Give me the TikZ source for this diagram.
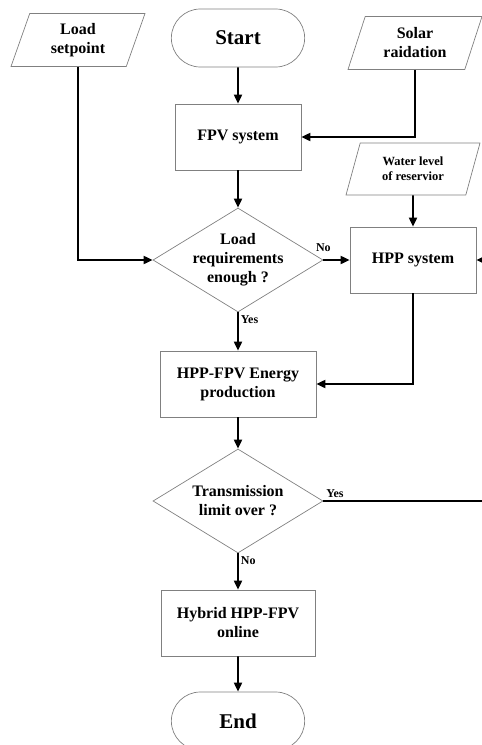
\documentclass[tikz,border=0pt]{standalone}
\usepackage{fontspec}
\setmainfont{Liberation Serif}
\usetikzlibrary{arrows.meta,shapes.geometric,shapes.misc}

\begin{document}
\begin{tikzpicture}[x=1pt, y=-1pt,
		font=\bfseries\fontsize{16}{19}\selectfont,
		box/.style={draw=gray, line width=.7pt, minimum height=66pt, align=center},
		terminal/.style={draw=gray, line width=.7pt, rounded rectangle, minimum width=140pt, minimum height=58pt, font=\bfseries\fontsize{21}{25}\selectfont},
		datain/.style={draw=gray, line width=.7pt, trapezium, trapezium left angle=65, trapezium right angle=115, trapezium stretches body, minimum width=134pt, minimum height=53pt, align=center},
		decision/.style={draw=gray, line width=.7pt, diamond, aspect=1.63, inner sep=-3pt, minimum width=170pt, minimum height=104pt, align=center},
		flow/.style={line width=1.8pt, -{Triangle[length=9pt, width=8pt]}},
		tag/.style={font=\bfseries\fontsize{12}{14}\selectfont, inner sep=2pt}]
		\useasboundingbox (0, 0) rectangle (482, 745);
		\node [terminal] (start) at (238, 38) {Start};
		\node [datain] (setpoint) at (78, 40) {Load\\setpoint};
		\node [datain] (solar) at (415, 43) {Solar\\raidation};
		\node [box, minimum width=126pt] (fpv) at (238, 137) {FPV system};
		\node [datain, font=\bfseries\fontsize{12.5}{15}\selectfont, minimum height=52pt] (water) at (413, 169) {Water level\\of reservior};
		\node [decision] (loadq) at (238, 260) {Load\\requirements\\enough ?};
		\node [box, minimum width=126pt] (hpp) at (413, 260) {HPP system};
		\node [box, minimum width=156pt] (prod) at (238, 384) {HPP-FPV Energy\\production};
		\node [decision] (trans) at (238, 501) {Transmission\\limit over ?};
		\node [box, minimum width=154pt] (hybrid) at (238, 623) {Hybrid HPP-FPV\\online};
		\node [terminal] (stop) at (238, 721) {End};
		\coordinate (back) at (505, 0);
		\draw [flow] (start) -- (fpv);
		\draw [flow] (solar.south) |- (fpv.east);
		\draw [flow] (fpv) -- (loadq);
		\draw [flow] (setpoint.south) |- (loadq.west);
		\draw [flow] (loadq.east) -- node [tag, pos=0, above=5pt] (lqno) {No} (hpp.west);
		\draw [flow] (water.south) -- (hpp.north);
		\draw [flow] (loadq.south) -- node [tag, pos=0, below right] (lqyes) {Yes} (prod.north);
		\draw [flow] (hpp.south) |- (prod.east);
		\draw [flow] (prod) -- (trans);
		\draw [flow] (trans.east) -- node [tag, pos=0, above right] (tryes) {Yes} (trans.east -| back) |- (hpp.east);
		\draw [flow] (trans.south) -- node [tag, pos=0, below right] (trno) {No} (hybrid.north);
		\draw [flow] (hybrid) -- (stop);
	\end{tikzpicture}
\end{document}
